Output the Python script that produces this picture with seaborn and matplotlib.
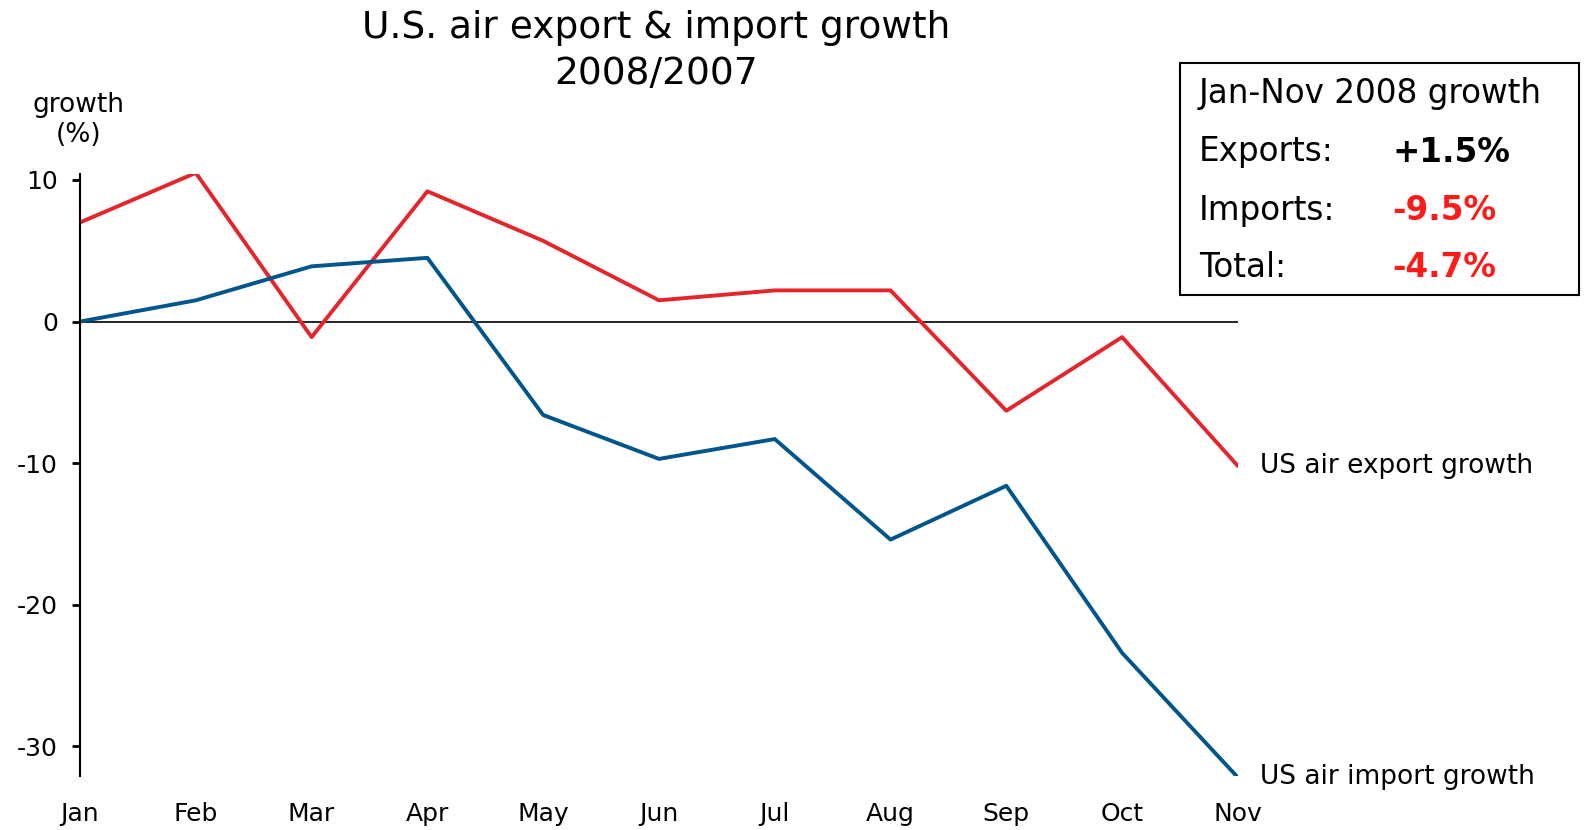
import pandas as pd
import matplotlib.pyplot as plt
import seaborn as sns
from matplotlib.patches import Rectangle

# data
months = ['Jan', 'Feb', 'Mar', 'Apr', 'May', 'Jun', 'Jul', 'Aug', 'Sep', 'Oct', 'Nov']
export_growth = [7.0, 10.5, -1.1, 9.2, 5.7, 1.5, 2.2, 2.2, -6.3, -1.1, -10.2]
import_growth = [0.0, 1.5, 3.9, 4.5, -6.6, -9.7, -8.3, -15.4, -11.6, -23.4, -32.2]

summary_labels = ['Exports:', 'Imports:', 'Total:']
summary_values = ['+1.5%', '-9.5%', '-4.7%']
summary_colors = ['black', '#FF1A1A', '#FF1A1A']

red = '#E4262C'
blue = '#00558B'

df = pd.DataFrame({'month': months, 'pos': range(len(months)),
                   'export': export_growth, 'import': import_growth})

sns.set_theme(style='white')
plt.rcParams['font.family'] = ['DejaVu Sans']
plt.rcParams['text.color'] = 'black'
plt.rcParams['axes.unicode_minus'] = False

fig = plt.figure(figsize=(15.85, 8.3), dpi=100)
ax = fig.add_axes([0.0505, 0.065, 0.7305, 0.725])

sns.lineplot(data=df, x='pos', y='export', color=red, linewidth=2.8, ax=ax)
sns.lineplot(data=df, x='pos', y='import', color=blue, linewidth=2.8, ax=ax)
ax.axhline(0, color='black', linewidth=1.2, zorder=1)

ax.set_xlim(0, len(months) - 1)
ax.set_ylim(-32.1, 10.4)
ax.set_xticks(df['pos'])
ax.set_xticklabels(months)
ax.set_yticks([10, 0, -10, -20, -30])
ax.set_xlabel('')
ax.set_ylabel('')

for s in ['top', 'right', 'bottom']:
    ax.spines[s].set_visible(False)
ax.spines['left'].set_color('black')
ax.spines['left'].set_linewidth(1.5)

ax.tick_params(axis='y', left=True, length=6, width=2, color='black',
               pad=10, labelsize=18, labelcolor='black')
ax.tick_params(axis='x', bottom=False, pad=13, labelsize=18, labelcolor='black')

# end-of-line labels
ax.annotate('US air export growth', xy=(10, export_growth[-1]), xytext=(16, 0),
            textcoords='offset points', va='center', fontsize=19, annotation_clip=False)
ax.annotate('US air import growth', xy=(10, import_growth[-1]), xytext=(16, 0),
            textcoords='offset points', va='center', fontsize=19, annotation_clip=False)

# title and axis caption
fig.text(656 / 1585, 1 - 28 / 830, 'U.S. air export & import growth', ha='center', va='center', fontsize=27)
fig.text(656 / 1585, 1 - 74 / 830, '2008/2007', ha='center', va='center', fontsize=27)
fig.text(79 / 1585, 1 - 105 / 830, 'growth', ha='center', va='center', fontsize=19)
fig.text(79 / 1585, 1 - 135 / 830, '(%)', ha='center', va='center', fontsize=19)

# summary box
fig.patches.append(Rectangle((1180 / 1585, 1 - 295 / 830), 399 / 1585, 232 / 830,
                             transform=fig.transFigure, fill=False,
                             edgecolor='black', linewidth=1.5))
fig.text(1199 / 1585, 1 - 94 / 830, 'Jan-Nov 2008 growth', ha='left', va='center', fontsize=23.5)
rows_y = [152, 210, 267]
for lab, val, col, yy in zip(summary_labels, summary_values, summary_colors, rows_y):
    fig.text(1199 / 1585, 1 - yy / 830, lab, ha='left', va='center', fontsize=23.5)
    fig.text(1392 / 1585, 1 - yy / 830, val, ha='left', va='center', fontsize=23.5,
             fontweight='bold', color=col)

fig.savefig('out.png', dpi=100)
